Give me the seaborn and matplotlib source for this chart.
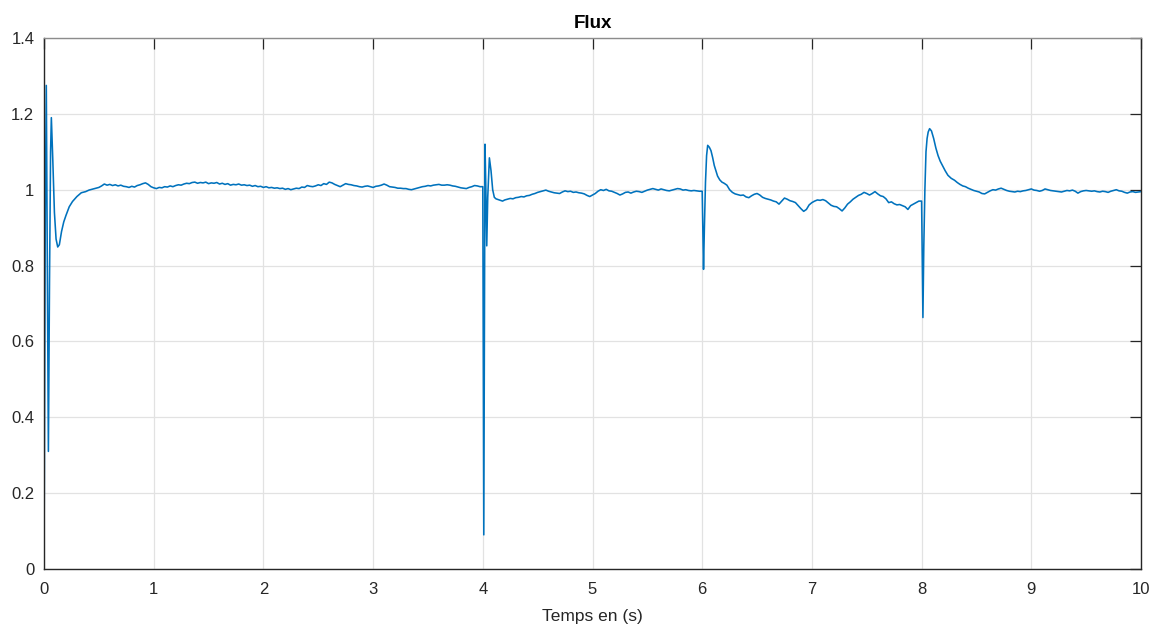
import numpy as np
import pandas as pd
import matplotlib
matplotlib.use("Agg")
import matplotlib.pyplot as plt
import seaborn as sns

# ---------------- data ----------------
# start-up transient (irregular sampling)
t_start = [0.0, 0.004, 0.012, 0.021, 0.03, 0.040, 0.05, 0.06, 0.067, 0.08, 0.095, 0.11,
           0.125, 0.14, 0.16, 0.18, 0.2, 0.23, 0.26, 0.3, 0.34, 0.38, 0.41, 0.45, 0.475]
y_start = [0.0, 0.30, 0.95, 1.275, 0.80, 0.31, 0.75, 1.10, 1.19, 1.08, 0.94, 0.87,
           0.849, 0.855, 0.89, 0.915, 0.932, 0.955, 0.969, 0.982, 0.992, 0.995, 0.999, 1.002, 1.004]

# steady part 0.5 s .. 3.975 s, step 0.025 s
flat1_start, flat1_step = 0.5, 0.025
flat1 = [1.006, 1.010, 1.015, 1.012, 1.014, 1.011, 1.013, 1.010, 1.012, 1.009,
         1.008, 1.006, 1.009, 1.007, 1.011, 1.013, 1.016, 1.018, 1.014, 1.008,
         1.005, 1.003, 1.006, 1.005, 1.008, 1.007, 1.010, 1.008, 1.011, 1.013,
         1.012, 1.015, 1.017, 1.016, 1.019, 1.020, 1.017, 1.019, 1.018, 1.020,
         1.016, 1.018, 1.017, 1.019, 1.015, 1.017, 1.014, 1.016, 1.012, 1.014,
         1.013, 1.015, 1.012, 1.013, 1.011, 1.012, 1.009, 1.011, 1.008, 1.009,
         1.006, 1.008, 1.005, 1.006, 1.004, 1.005, 1.003, 1.004, 1.001, 1.003,
         1.000, 1.002, 1.004, 1.003, 1.007, 1.006, 1.011, 1.009, 1.008, 1.010,
         1.013, 1.011, 1.016, 1.014, 1.020, 1.018, 1.014, 1.011, 1.008, 1.012,
         1.016, 1.014, 1.013, 1.011, 1.010, 1.008, 1.007, 1.009, 1.010, 1.008,
         1.006, 1.009, 1.010, 1.012, 1.015, 1.012, 1.008, 1.007, 1.006, 1.004,
         1.004, 1.003, 1.003, 1.001, 1.000, 1.002, 1.004, 1.006, 1.008, 1.009,
         1.011, 1.010, 1.012, 1.013, 1.014, 1.012, 1.012, 1.013, 1.012, 1.010,
         1.009, 1.007, 1.005, 1.004, 1.003, 1.006, 1.008, 1.011, 1.010, 1.008]

# transient at t = 4 s
t_step4 = [4.000, 4.005, 4.009, 4.020, 4.028, 4.036, 4.045, 4.060, 4.075, 4.090,
           4.105, 4.120, 4.140, 4.160, 4.180]
y_step4 = [1.008, 0.50, 0.09, 1.12, 1.00, 0.852, 0.98, 1.084, 1.05, 1.00,
           0.98, 0.976, 0.974, 0.972, 0.970]

# steady part 4.2 s .. 5.975 s
flat2_start, flat2_step = 4.2, 0.025
flat2 = [0.973, 0.975, 0.977, 0.976, 0.979, 0.980, 0.982, 0.981, 0.984, 0.985,
         0.988, 0.990, 0.993, 0.995, 0.997, 0.999, 0.996, 0.994, 0.992, 0.991,
         0.990, 0.994, 0.997, 0.995, 0.996, 0.993, 0.994, 0.992, 0.991, 0.989,
         0.985, 0.982, 0.986, 0.990, 0.996, 1.000, 0.998, 1.001, 0.997, 0.996,
         0.993, 0.990, 0.986, 0.989, 0.993, 0.994, 0.991, 0.994, 0.996, 0.995,
         0.993, 0.996, 0.999, 1.001, 1.003, 1.001, 0.999, 1.002, 1.000, 0.998,
         0.997, 0.999, 1.001, 1.003, 1.002, 0.999, 1.000, 0.998, 0.997, 0.998,
         0.997, 0.996]

# transient at t = 6 s
t_step6 = [6.000, 6.006, 6.012, 6.020, 6.030, 6.040, 6.050, 6.065, 6.080, 6.095,
           6.110, 6.125, 6.140, 6.160, 6.180, 6.200, 6.225]
y_step6 = [0.996, 0.90, 0.79, 0.90, 1.02, 1.09, 1.117, 1.112, 1.103, 1.085,
           1.064, 1.050, 1.036, 1.026, 1.020, 1.017, 1.012]

# steady part 6.25 s .. 7.975 s
flat3_start, flat3_step = 6.25, 0.025
flat3 = [1.000, 0.993, 0.989, 0.987, 0.985, 0.986, 0.981, 0.979, 0.984, 0.988,
         0.990, 0.986, 0.980, 0.977, 0.975, 0.973, 0.970, 0.968, 0.962, 0.970,
         0.978, 0.975, 0.971, 0.969, 0.966, 0.958, 0.950, 0.943, 0.948, 0.960,
         0.966, 0.970, 0.973, 0.972, 0.974, 0.971, 0.965, 0.959, 0.956, 0.955,
         0.950, 0.944, 0.952, 0.962, 0.968, 0.975, 0.980, 0.985, 0.988, 0.993,
         0.990, 0.986, 0.990, 0.995, 0.989, 0.984, 0.982, 0.976, 0.966, 0.968,
         0.963, 0.960, 0.961, 0.958, 0.955, 0.948, 0.958, 0.962, 0.966, 0.970]

# transient at t = 8 s
t_step8 = [8.000, 8.006, 8.012, 8.020, 8.030, 8.040, 8.050, 8.060, 8.073, 8.090,
           8.110, 8.130, 8.150, 8.170, 8.190, 8.215, 8.240, 8.270]
y_step8 = [0.970, 0.82, 0.663, 0.85, 1.00, 1.10, 1.135, 1.152, 1.161, 1.155,
           1.135, 1.110, 1.090, 1.075, 1.064, 1.050, 1.038, 1.030]

# steady part 8.3 s .. 10 s
flat4_start, flat4_step = 8.3, 0.025
flat4 = [1.025, 1.019, 1.014, 1.010, 1.008, 1.004, 1.001, 0.998, 0.996, 0.994,
         0.990, 0.989, 0.993, 0.997, 1.000, 0.999, 1.002, 1.004, 1.001, 0.998,
         0.996, 0.995, 0.994, 0.996, 0.995, 0.997, 0.998, 1.000, 1.002, 0.999,
         0.998, 0.996, 0.998, 1.002, 1.000, 0.998, 0.997, 0.996, 0.995, 0.994,
         0.996, 0.998, 0.997, 0.999, 0.996, 0.991, 0.995, 0.997, 0.998, 0.997,
         0.996, 0.997, 0.995, 0.994, 0.996, 0.995, 0.993, 0.996, 0.998, 1.000,
         0.997, 0.996, 0.993, 0.991, 0.994, 0.995, 0.993, 0.994, 0.995]

x_ticks = [0, 1, 2, 3, 4, 5, 6, 7, 8, 9, 10]
y_ticks = [0, 0.2, 0.4, 0.6, 0.8, 1.0, 1.2, 1.4]
y_tick_labels = ["0", "0.2", "0.4", "0.6", "0.8", "1", "1.2", "1.4"]


def regular(start, step, vals):
    return list(start + step * np.arange(len(vals)))


t_all = (t_start + regular(flat1_start, flat1_step, flat1) + t_step4
         + regular(flat2_start, flat2_step, flat2) + t_step6
         + regular(flat3_start, flat3_step, flat3) + t_step8
         + regular(flat4_start, flat4_step, flat4))
y_all = (y_start + flat1 + y_step4 + flat2 + y_step6 + flat3 + y_step8 + flat4)

df = pd.DataFrame({"t": t_all, "flux": y_all})

# ---------------- plot ----------------
sns.set_style("white")
plt.rcParams["font.family"] = ["Liberation Sans", "DejaVu Sans"]

fig = plt.figure(figsize=(11.56, 6.33), dpi=100)
ax = fig.add_axes([44 / 1156, 1 - 569 / 633, (1141 - 44) / 1156, (569 - 38) / 633])

sns.lineplot(data=df, x="t", y="flux", ax=ax, color="#0072BD", linewidth=1.15,
             sort=False, estimator=None)

ax.set_xlim(0, 10)
ax.set_ylim(0, 1.4)
ax.set_xticks(x_ticks)
ax.set_xticklabels([str(v) for v in x_ticks])
ax.set_yticks(y_ticks)
ax.set_yticklabels(y_tick_labels)

ax.grid(True, color="#e2e2e2", linewidth=0.9)
ax.set_axisbelow(True)

for side in ["left", "bottom", "right"]:
    ax.spines[side].set_color("#262626")
    ax.spines[side].set_linewidth(1.0)
ax.spines["top"].set_color("#8c8c8c")
ax.spines["top"].set_linewidth(1.0)

ax.tick_params(axis="both", direction="in", length=8, width=0.9, color="#262626",
               labelcolor="#262626", labelsize=12, top=True, right=True)
ax.tick_params(axis="x", pad=9)
ax.tick_params(axis="y", pad=7)

ax.set_xlabel("Temps en (s)", fontsize=12.5, color="#262626", labelpad=9)
ax.set_ylabel("")
ax.set_title("Flux", fontsize=13.5, fontweight="bold", color="#000000", pad=7)

fig.savefig("out.png", dpi=100)
